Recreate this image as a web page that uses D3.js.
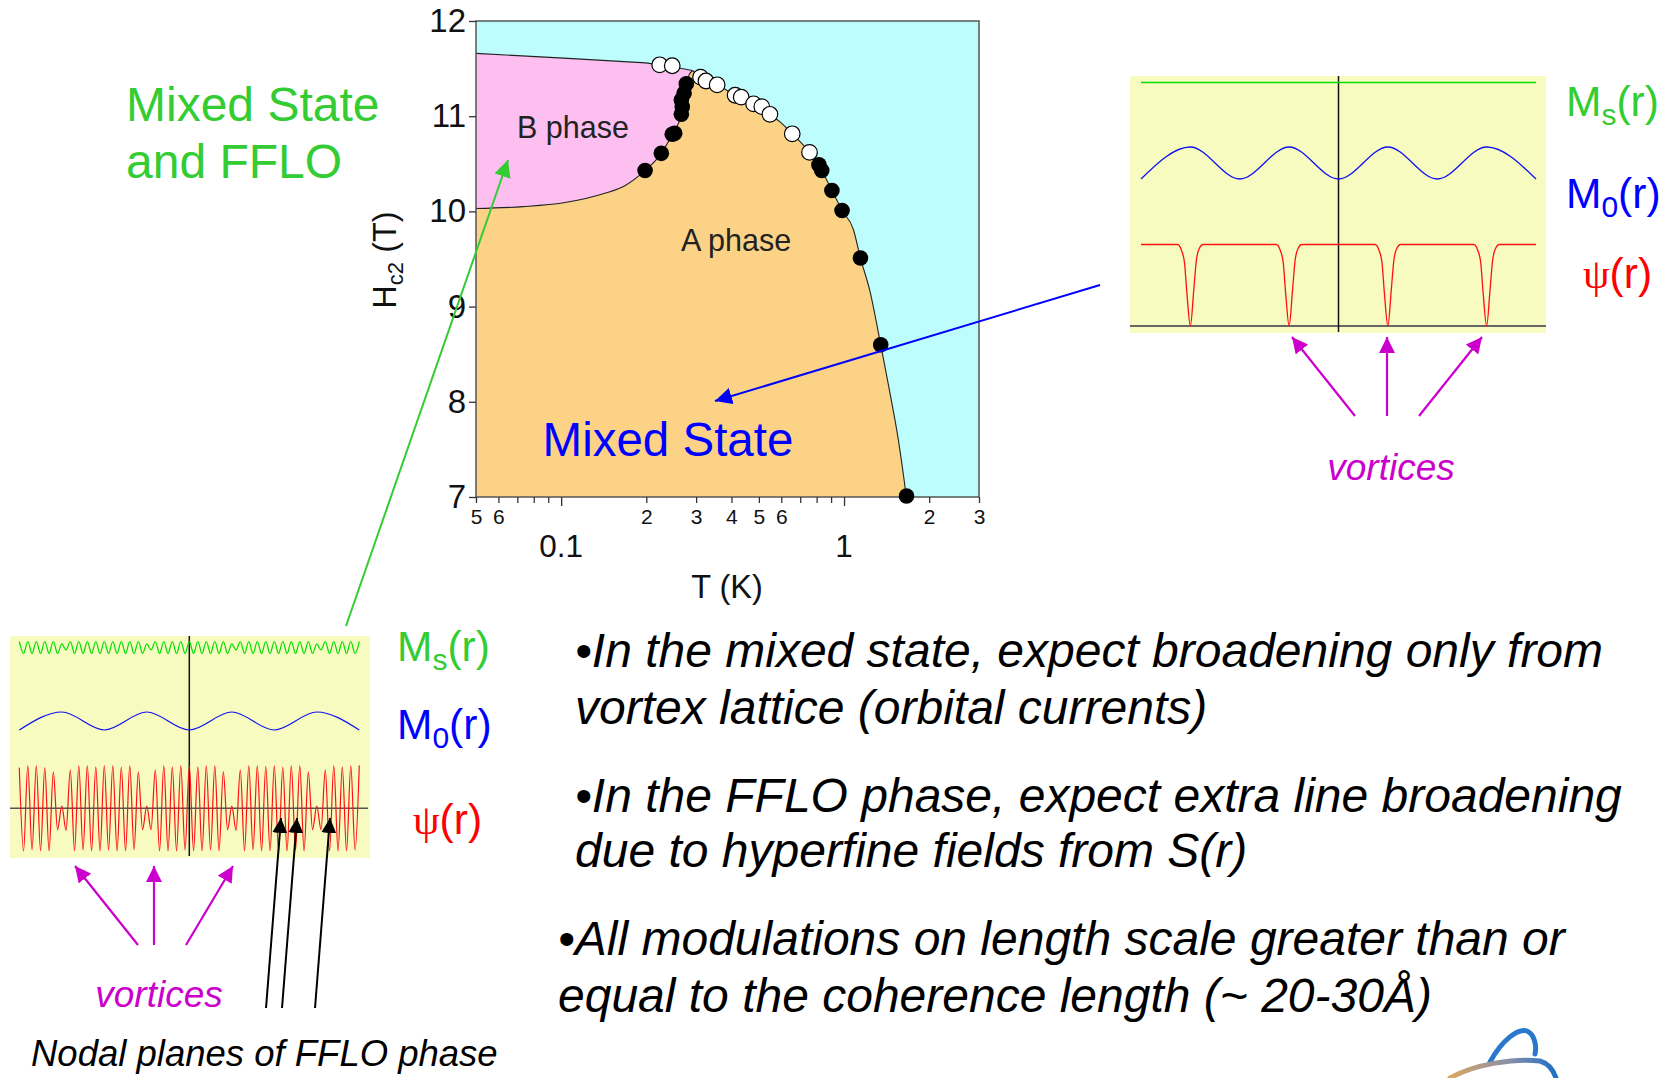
<!DOCTYPE html>
<html>
<head>
<meta charset="utf-8">
<script src="https://cdn.jsdelivr.net/npm/d3@7"></script>
<style>
  body { margin: 0; background: #fff; }
  svg { display: block; font-family: Arial, "Liberation Sans", sans-serif; }
</style>
</head>
<body>
<svg id="slide"></svg>
<script>
// ---- Hc2(T) phase diagram, T in K (log), H in tesla ----
const upperT = [0.05, 0.102, 0.199, 0.247, 0.291];
const upperH = [11.66, 11.61, 11.56, 11.52, 11.48];
const abT = [0.05, 0.0734, 0.102, 0.1426, 0.168, 0.198, 0.226, 0.247, 0.266, 0.272, 0.28, 0.291];
const abH = [10.03, 10.05, 10.09, 10.19, 10.27, 10.43, 10.61, 10.81, 11.02, 11.24, 11.4, 11.48];
const hc2T = [0.291, 0.311, 0.356, 0.412, 0.479, 0.547, 0.594, 0.656, 0.755, 0.834, 0.906, 0.984, 1.079, 1.143, 1.233, 1.348, 1.456, 1.556, 1.634, 1.66];
const hc2H = [11.48, 11.41, 11.33, 11.22, 11.13, 11.02, 10.94, 10.815, 10.62, 10.43, 10.22, 10.01, 9.81, 9.51, 9.17, 8.6, 8.08, 7.6, 7.16, 7.0];
const openT = [0.223, 0.247, 0.311, 0.325, 0.356, 0.412, 0.433, 0.479, 0.512, 0.547, 0.656, 0.755];
const openH = [11.54, 11.53, 11.41, 11.37, 11.33, 11.22, 11.2, 11.13, 11.1, 11.02, 10.815, 10.62];
const fullT = [0.198, 0.226, 0.247, 0.252, 0.266, 0.268, 0.266, 0.272, 0.277, 0.815, 0.834, 0.906, 0.984, 1.143, 1.348, 1.663];
const fullH = [10.43, 10.61, 10.81, 10.82, 11.02, 11.1, 11.17, 11.24, 11.34, 10.49, 10.43, 10.22, 10.01, 9.51, 8.6, 7.01];
const xTicks = [0.05, 0.06, 0.07, 0.08, 0.09, 0.1, 0.2, 0.3, 0.4, 0.5, 0.6, 0.7, 0.8, 0.9, 1, 2, 3];
const xTickLabels = ["5", "6", "", "", "", "", "2", "3", "4", "5", "6", "", "", "", "", "2", "3"];
const xMajor = [0.1, 1];
const xMajorLabels = ["0.1", "1"];
const yTicks = [7, 8, 9, 10, 11, 12];

// ---- mixed state panel (right): position in vortex spacings ----
const rExtX = [0, 0.5, 1, 1.5, 2, 2.5, 3, 3.5, 4];
const rM0 = [0, 1, 0, 1, 0, 1, 0, 1, 0];
const rMsX = [0, 4];
const rMs = [1, 1];
const rPsiX = [0, 0.37, 0.41, 0.44, 0.465, 0.5, 0.535, 0.56, 0.59, 0.63,
  1.37, 1.41, 1.44, 1.465, 1.5, 1.535, 1.56, 1.59, 1.63,
  2.37, 2.41, 2.44, 2.465, 2.5, 2.535, 2.56, 2.59, 2.63,
  3.37, 3.41, 3.44, 3.465, 3.5, 3.535, 3.56, 3.59, 3.63, 4];
const rPsi = [1, 1, 0.93, 0.78, 0.4, 0, 0.45, 0.8, 0.95, 1,
  1, 0.93, 0.78, 0.4, 0, 0.45, 0.8, 0.95, 1,
  1, 0.93, 0.78, 0.4, 0, 0.45, 0.8, 0.95, 1,
  1, 0.93, 0.78, 0.4, 0, 0.45, 0.8, 0.95, 1, 1];

// ---- mixed state + FFLO panel (left): extrema every half FFLO period ----
const lM0 = [0, 1, 0, 1, 0, 1, 0, 1, 0];
const lMs = [1, 0, 1, 0, 1, 0, 1, 0, 1, 0,
  0.8, 0.3, 1, 0, 1, 0, 1, 0, 1, 0,
  1, 0, 1, 0, 1, 0, 1, 0, 1, 0,
  0.8, 0.3, 1, 0, 1, 0, 1, 0, 1, 0,
  1, 0, 1, 0, 1, 0, 1, 0, 1, 0,
  0.8, 0.3, 1, 0, 1, 0, 1, 0, 1, 0,
  1, 0, 1, 0, 1, 0, 1, 0, 1, 0,
  0.8, 0.3, 1, 0, 1, 0, 1, 0, 1, 0, 1];
const lPsi = [0.95, -1, 1, -0.97, 1, -1, 0.95, -1, 0.85, -0.5,
  0.05, -0.52, 0.9, -1, 1, -0.98, 1, -1, 0.97, -1,
  1, -0.98, 1, -1, 0.96, -1, 1, -0.97, 0.85, -0.5,
  0.05, -0.5, 0.9, -1, 1, -1, 0.97, -1, 1, -0.98,
  1, -1, 0.97, -1, 1, -0.98, 1, -1, 0.86, -0.5,
  0.05, -0.52, 0.9, -1, 1, -0.97, 1, -1, 0.98, -1,
  1, -1, 0.96, -1, 1, -0.98, 1, -1, 0.85, -0.5,
  0.05, -0.5, 0.9, -1, 1, -1, 0.97, -1, 1, -0.98, 1];

const bullets = [
  "•In the mixed state, expect broadening only from",
  "vortex lattice (orbital currents)",
  "•In the FFLO phase, expect extra line broadening",
  "due to hyperfine fields from S(r)",
  "•All modulations on length scale greater than or",
  "equal to the coherence length (~ 20-30Å)"
];

const FONT = "Arial, 'Liberation Sans', sans-serif";
const svg = d3.select("#slide").attr("width", 1671).attr("height", 1078);
const defs = svg.append("defs");

function arrowMarker(id, color, size) {
  defs.append("marker").attr("id", id)
    .attr("viewBox", "0 -5 10 10").attr("refX", 10).attr("refY", 0)
    .attr("markerWidth", size).attr("markerHeight", size)
    .attr("markerUnits", "userSpaceOnUse").attr("orient", "auto")
    .append("path").attr("d", "M0,-5L10,0L0,5Z").attr("fill", color);
}
arrowMarker("head-green", "#33cc33", 17);
arrowMarker("head-blue", "#0000ff", 17);
arrowMarker("head-mag", "#cc00cc", 16);
arrowMarker("head-black", "#000", 15);

function arrow(x1, y1, x2, y2, color, marker, w) {
  svg.append("line")
    .attr("x1", x1).attr("y1", y1).attr("x2", x2).attr("y2", y2)
    .attr("stroke", color).attr("stroke-width", w || 2)
    .attr("marker-end", "url(#" + marker + ")");
}

// ================= phase diagram =================
const x = d3.scaleLog().domain([0.05, 3]).range([476, 979]);
const y = d3.scaleLinear().domain([7, 12]).range([497, 21]);
const pts = (ts, hs) => ts.map((t, i) => [t, hs[i]]);
const lin = d3.line().x(d => x(d[0])).y(d => y(d[1]));
const smooth = d3.line().x(d => x(d[0])).y(d => y(d[1])).curve(d3.curveMonotoneX);

const upper = pts(upperT, upperH);
const ab = pts(abT, abH);
const hc2 = pts(hc2T, hc2H);

const plot = svg.append("g");
plot.append("rect")
  .attr("x", x(0.05)).attr("y", y(12))
  .attr("width", x(3) - x(0.05)).attr("height", y(7) - y(12))
  .attr("fill", "#bdfdfd");

// A phase (orange) and B phase (pink)
plot.append("path")
  .attr("d", smooth(ab) + smooth(hc2).replace(/^M/, "L") + "L" + x(0.05) + "," + y(7) + "Z")
  .attr("fill", "#fcd386");
plot.append("path")
  .attr("d", smooth(ab) + lin(upper.slice().reverse()).replace(/^M/, "L") + "Z")
  .attr("fill", "#fcbff0");

[smooth(ab), smooth(hc2), lin(upper)].forEach(d => {
  plot.append("path").attr("d", d).attr("fill", "none")
    .attr("stroke", "#222").attr("stroke-width", 1.1);
});

plot.append("rect")
  .attr("x", x(0.05)).attr("y", y(12))
  .attr("width", x(3) - x(0.05)).attr("height", y(7) - y(12))
  .attr("fill", "none").attr("stroke", "#555").attr("stroke-width", 1.5);

// axes
plot.append("g")
  .attr("transform", "translate(" + x(0.05) + ",0)")
  .call(d3.axisLeft(y).tickValues(yTicks).tickSize(7).tickPadding(3).tickFormat(d3.format("d")))
  .attr("font-size", 33).attr("font-family", FONT)
  .call(g => g.select(".domain").remove())
  .call(g => g.selectAll(".tick line").attr("stroke", "#333").attr("stroke-width", 1.3))
  .call(g => g.selectAll("text").attr("fill", "#111"));

plot.append("g")
  .attr("transform", "translate(0," + y(7) + ")")
  .call(d3.axisBottom(x).tickValues(xTicks).tickSize(6).tickPadding(6)
    .tickFormat((d, i) => xTickLabels[i]))
  .attr("font-size", 21).attr("font-family", FONT)
  .call(g => g.select(".domain").remove())
  .call(g => g.selectAll(".tick line").attr("stroke", "#333").attr("stroke-width", 1.3)
    .attr("y2", d => xMajor.includes(d) ? 9 : 6))
  .call(g => g.selectAll("text").attr("fill", "#111"));

plot.selectAll(".major-label")
  .data(xMajor)
  .enter().append("text")
  .attr("x", d => x(d)).attr("y", 557)
  .attr("text-anchor", "middle").attr("font-size", 31.5).attr("fill", "#111")
  .text((d, i) => xMajorLabels[i]);

plot.append("text")
  .attr("x", 727).attr("y", 598).attr("text-anchor", "middle")
  .attr("font-size", 32.5).attr("fill", "#111").text("T (K)");

const yTitle = plot.append("text")
  .attr("transform", "translate(396,260) rotate(-90)")
  .attr("text-anchor", "middle").attr("font-size", 32.5).attr("fill", "#111");
yTitle.append("tspan").text("H");
yTitle.append("tspan").attr("font-size", 22).attr("dy", 7).text("c2");
yTitle.append("tspan").attr("dy", -7).text(" (T)");

// data points
plot.append("g").selectAll("circle")
  .data(pts(fullT, fullH))
  .enter().append("circle")
  .attr("cx", d => x(d[0])).attr("cy", d => y(d[1])).attr("r", 7.8)
  .attr("fill", "#000");
plot.append("g").selectAll("circle")
  .data(pts(openT, openH))
  .enter().append("circle")
  .attr("cx", d => x(d[0])).attr("cy", d => y(d[1])).attr("r", 7.8)
  .attr("fill", "#fff").attr("stroke", "#000").attr("stroke-width", 1.2);

plot.append("text").attr("x", 573).attr("y", 138).attr("text-anchor", "middle")
  .attr("font-size", 30.5).attr("fill", "#222").text("B phase");
plot.append("text").attr("x", 736).attr("y", 251).attr("text-anchor", "middle")
  .attr("font-size", 30.5).attr("fill", "#222").text("A phase");
plot.append("text").attr("x", 668).attr("y", 456).attr("text-anchor", "middle")
  .attr("font-size", 47.5).attr("fill", "#0000ff").text("Mixed State");

// green title
svg.append("text").attr("x", 126).attr("y", 121).attr("font-size", 48)
  .attr("fill", "#33cc33").text("Mixed State");
svg.append("text").attr("x", 126).attr("y", 178).attr("font-size", 48)
  .attr("fill", "#33cc33").text("and FFLO");

// ================= right panel: mixed state =================
const rx = d3.scaleLinear().domain([0, 4]).range([1141, 1536]);
const ryMs = d3.scaleLinear().domain([0, 1]).range([120, 82.5]);
const ryM0 = d3.scaleLinear().domain([0, 1]).range([179, 147]);
const ryPsi = d3.scaleLinear().domain([0, 1]).range([326, 244.5]);

const right = svg.append("g");
right.append("rect").attr("x", 1130).attr("y", 76).attr("width", 416).attr("height", 257)
  .attr("fill", "#f7fbc0");
right.append("line").attr("x1", 1130).attr("x2", 1546).attr("y1", ryPsi(0)).attr("y2", ryPsi(0))
  .attr("stroke", "#666").attr("stroke-width", 2);
right.append("line").attr("x1", rx(2)).attr("x2", rx(2)).attr("y1", 76).attr("y2", 332)
  .attr("stroke", "#111").attr("stroke-width", 1.5);
right.append("path")
  .attr("d", d3.line().x((d, i) => rx(rMsX[i])).y(d => ryMs(d))(rMs))
  .attr("fill", "none").attr("stroke", "#00e000").attr("stroke-width", 1.5);
right.append("path")
  .attr("d", d3.line().x((d, i) => rx(rExtX[i])).y(d => ryM0(d)).curve(d3.curveMonotoneX)(rM0))
  .attr("fill", "none").attr("stroke", "#1010f0").attr("stroke-width", 1.3);
right.append("path")
  .attr("d", d3.line().x((d, i) => rx(rPsiX[i])).y(d => ryPsi(d)).curve(d3.curveMonotoneX)(rPsi))
  .attr("fill", "none").attr("stroke", "#ff1010").attr("stroke-width", 1.3);

function fieldLabel(g, xPos, yPos, main, sub, color, greek) {
  const t = g.append("text").attr("x", xPos).attr("y", yPos).attr("font-size", 42.5).attr("fill", color);
  if (greek) {
    t.append("tspan").attr("font-family", "'Liberation Serif', 'DejaVu Serif', serif").text(main);
  } else {
    t.append("tspan").text(main);
  }
  if (sub) {
    t.append("tspan").attr("font-size", 30).attr("dy", 9).text(sub);
    t.append("tspan").attr("dy", -9).text("(r)");
  } else {
    t.append("tspan").text("(r)");
  }
}
fieldLabel(right, 1566, 116, "M", "s", "#33cc33");
fieldLabel(right, 1566, 208, "M", "0", "#0000ff");
fieldLabel(right, 1583, 288, "ψ", null, "#ff0000", true);

arrow(1355, 416, 1292, 337, "#cc00cc", "head-mag", 2.2);
arrow(1387, 416, 1387, 337, "#cc00cc", "head-mag", 2.2);
arrow(1419, 416, 1482, 337, "#cc00cc", "head-mag", 2.2);
svg.append("text").attr("x", 1391).attr("y", 480).attr("text-anchor", "middle")
  .attr("font-size", 37).attr("font-style", "italic").attr("fill", "#cc00cc").text("vortices");

// ================= left panel: mixed state + FFLO =================
const lx = d3.scaleLinear().domain([0, 4]).range([19.3, 359.3]);
const lyMs = d3.scaleLinear().domain([0, 1]).range([653.5, 641.5]);
const lyM0 = d3.scaleLinear().domain([0, 1]).range([730, 712]);
const lyPsi = d3.scaleLinear().domain([-1, 1]).range([851, 765.5]);
const halfPeriod = 0.05;

const left = svg.append("g");
left.append("rect").attr("x", 10).attr("y", 636).attr("width", 360).attr("height", 222)
  .attr("fill", "#f7fbc0");
left.append("line").attr("x1", 10).attr("x2", 368).attr("y1", lyPsi(0)).attr("y2", lyPsi(0))
  .attr("stroke", "#555").attr("stroke-width", 1.5);
left.append("line").attr("x1", lx(2)).attr("x2", lx(2)).attr("y1", 636).attr("y2", 856)
  .attr("stroke", "#111").attr("stroke-width", 1.5);
left.append("path")
  .attr("d", d3.line().x((d, i) => lx(i * halfPeriod)).y(d => lyMs(d)).curve(d3.curveMonotoneX)(lMs))
  .attr("fill", "none").attr("stroke", "#00e000").attr("stroke-width", 1.2);
left.append("path")
  .attr("d", d3.line().x((d, i) => lx(rExtX[i])).y(d => lyM0(d)).curve(d3.curveMonotoneX)(lM0))
  .attr("fill", "none").attr("stroke", "#1010f0").attr("stroke-width", 1.2);
left.append("path")
  .attr("d", d3.line().x((d, i) => lx(i * halfPeriod)).y(d => lyPsi(d)).curve(d3.curveMonotoneX)(lPsi))
  .attr("fill", "none").attr("stroke", "#ff1010").attr("stroke-width", 1.2);

fieldLabel(left, 397, 661, "M", "s", "#33cc33");
fieldLabel(left, 397, 739, "M", "0", "#0000ff");
fieldLabel(left, 413, 834, "ψ", null, "#ff0000", true);

arrow(138, 945, 75, 866, "#cc00cc", "head-mag", 2.2);
arrow(154, 945, 154, 866, "#cc00cc", "head-mag", 2.2);
arrow(186, 945, 233, 866, "#cc00cc", "head-mag", 2.2);
svg.append("text").attr("x", 159).attr("y", 1007).attr("text-anchor", "middle")
  .attr("font-size", 37).attr("font-style", "italic").attr("fill", "#cc00cc").text("vortices");

arrow(266, 1008, 281, 818, "#000", "head-black", 2);
arrow(282, 1008, 297, 818, "#000", "head-black", 2);
arrow(315, 1008, 330, 818, "#000", "head-black", 2);
svg.append("text").attr("x", 31).attr("y", 1066)
  .attr("font-size", 36.5).attr("font-style", "italic").attr("fill", "#000")
  .text("Nodal planes of FFLO phase");

// pointers into the phase diagram
arrow(346, 626, 508, 160, "#33cc33", "head-green", 2);
arrow(1100, 285, 715, 401, "#0000ff", "head-blue", 2);

// ================= bullet text =================
const bulletX = [575, 575, 575, 575, 558, 558];
const bulletY = [667, 724, 812, 867, 955, 1012];
svg.append("g").selectAll("text")
  .data(bullets)
  .enter().append("text")
  .attr("x", (d, i) => bulletX[i]).attr("y", (d, i) => bulletY[i])
  .attr("font-size", 48).attr("font-style", "italic").attr("fill", "#000")
  .text(d => d);

// logo fragment, bottom right
const grad = defs.append("linearGradient").attr("id", "logo-grad")
  .attr("x1", "0%").attr("x2", "100%").attr("y1", "0%").attr("y2", "0%");
grad.append("stop").attr("offset", "0%").attr("stop-color", "#d9a760");
grad.append("stop").attr("offset", "55%").attr("stop-color", "#8a8fa8");
grad.append("stop").attr("offset", "100%").attr("stop-color", "#1f6fc8");
svg.append("path").attr("d", "M1490,1062 C1502,1040 1518,1028 1527,1031 C1534,1034 1537,1045 1535,1054")
  .attr("fill", "none").attr("stroke", "#2a78cc").attr("stroke-width", 5).attr("stroke-linecap", "round");
svg.append("path").attr("d", "M1450,1078 C1475,1064 1515,1058 1540,1061 C1550,1064 1554,1072 1556,1078")
  .attr("fill", "none").attr("stroke", "url(#logo-grad)").attr("stroke-width", 5).attr("stroke-linecap", "round");
</script>
</body>
</html>
